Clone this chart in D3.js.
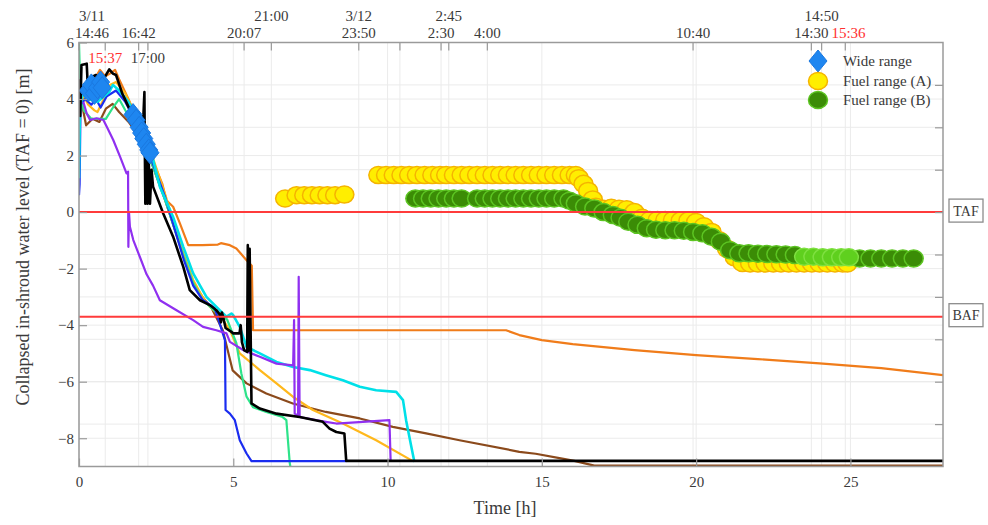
<!DOCTYPE html>
<html>
<head>
<meta charset="utf-8">
<script src="https://cdn.jsdelivr.net/npm/d3@7"></script>
<style>
  html, body { margin: 0; padding: 0; background: #fff; }
  svg { display: block; font-family: "Liberation Serif", "DejaVu Serif", serif; }
</style>
</head>
<body>
<svg id="chart" width="988" height="525"></svg>
<script>
// ---- Time references (3/11 14:46 = 0 h) ----
const topTickDays   = [11, 11, 11, 11, 11, 11, 11, 12, 12, 12, 12, 12, 12, 12, 12];
const topTickClocks = ["14:46", "15:37", "16:42", "17:00", "20:07", "21:00", "23:50", "1:10", "2:30", "2:45", "4:00", "10:40", "14:30", "14:50", "15:36"];
const topTickLabels = ["14:46", "15:37", "16:42", "17:00", "20:07", "21:00", "23:50", "", "2:30", "2:45", "4:00", "10:40", "14:30", "14:50", "15:36"];
const topTickRows   = ["lower", "inside", "lower", "inside", "lower", "upper", "lower", "none", "lower", "upper", "lower", "lower", "lower", "upper", "lower"];
const topTickRed    = [false, true, false, false, false, false, false, false, false, false, false, false, false, false, true];
const dateLabels    = ["3/11", "3/12"];
const dateAnchors   = ["14:46", "23:50"];

const bottomTicks = [0, 5, 10, 15, 20, 25];
const leftTicks   = [-8, -6, -4, -2, 0, 2, 4, 6];
const rightTicks  = [-7.5, -6, -4.5, -3, -1.5, 0, 1.5, 3, 4.5];

// ---- Reference levels [m] ----
const refNames  = ["TAF", "BAF"];
const refLevels = [0, -3.7];

// ---- Analysis curves: [time h, level m] ----
const orangeCase = [[0,3.3],[0.05,4.3],[0.15,4.0],[0.3,4.5],[0.5,4.7],[0.68,5.03],[0.85,4.8],[1.0,4.9],[1.17,5.03],[1.3,4.7],[1.6,4.0],[2.0,3.0],[2.4,1.8],[2.7,1.0],[2.83,0.42],[3.05,0.19],[3.27,-0.4],[3.54,-1.17],[4.0,-1.17],[4.5,-1.15],[4.6,-1.1],[4.89,-1.17],[5.1,-1.29],[5.43,-1.7],[5.6,-1.9],[5.64,-4.18],[13.84,-4.18],[14.27,-4.35],[15,-4.53],[16,-4.67],[18,-4.88],[20,-5.06],[22,-5.2],[24,-5.35],[26,-5.52],[28,-5.77]];
const brownCase = [[0,2.0],[0.03,3.5],[0.05,4.85],[0.1,3.8],[0.23,3.07],[0.44,3.3],[0.66,3.19],[0.87,3.66],[1.09,3.83],[1.3,3.54],[1.6,3.2],[2.0,2.6],[2.4,1.6],[2.8,0.4],[3.1,-0.6],[3.4,-1.6],[3.7,-2.5],[4.0,-3.0],[4.3,-3.4],[4.66,-4.18],[4.98,-5.6],[5.43,-6.06],[6.07,-6.42],[6.93,-6.77],[8.0,-7.07],[9.1,-7.3],[10.17,-7.6],[11.25,-7.83],[12.33,-8.07],[14.27,-8.48],[14.8,-8.55],[15.66,-8.72],[16.05,-8.8],[16.7,-8.97],[28,-8.97]];
const goldCase = [[0,3.5],[0.1,4.2],[0.3,3.8],[0.5,3.6],[0.6,3.54],[0.8,4.0],[1.0,4.5],[1.2,4.6],[1.5,4.2],[2.0,3.1],[2.4,1.9],[2.8,0.6],[3.1,-0.5],[3.4,-1.5],[3.7,-2.4],[4.0,-3.0],[4.24,-3.35],[4.6,-3.7],[4.9,-4.2],[5.21,-5.0],[5.86,-5.59],[6.4,-6.06],[6.94,-6.54],[7.58,-7.0],[8.55,-7.48],[9.63,-8.07],[10.82,-8.81]];
const greenCase = [[0,6],[0.02,5.2],[0.05,4.5],[0.15,3.6],[0.4,3.3],[0.87,3.3],[1.1,3.7],[1.3,4.0],[1.5,3.6],[2.0,2.8],[2.4,1.6],[2.8,0.4],[3.1,-0.6],[3.4,-1.6],[3.7,-2.5],[4.0,-3.1],[4.4,-3.5],[4.8,-3.8],[5.1,-4.64],[5.26,-5.7],[5.43,-6.53],[5.64,-6.9],[6.07,-7.07],[6.6,-7.25],[6.72,-7.36],[6.83,-8.88],[6.85,-9]];
const blueCase = [[0,0.6],[0.02,1.0],[0.05,3.8],[0.2,4.0],[0.4,3.8],[0.55,4.0],[0.7,3.7],[0.9,4.1],[1.2,4.3],[1.5,3.9],[2.0,2.9],[2.4,1.7],[2.8,0.5],[3.1,-0.6],[3.4,-1.7],[3.7,-2.6],[4.0,-3.1],[4.4,-3.4],[4.73,-4.53],[4.75,-7.0],[4.89,-7.13],[5.05,-7.36],[5.21,-8.07],[5.43,-8.54],[5.59,-8.81],[8.66,-8.81]];
const cyanCase = [[0,1.2],[0.03,3.5],[0.1,4.2],[0.3,4.0],[0.6,3.9],[0.98,4.25],[1.1,4.5],[1.3,4.3],[1.6,3.9],[2.0,3.1],[2.3,2.3],[2.62,0.9],[3.05,-0.17],[3.38,-1.23],[3.7,-2.17],[4.13,-3.0],[4.56,-3.47],[4.78,-3.7],[4.94,-3.59],[5.0,-3.65],[5.21,-4.06],[5.43,-4.77],[5.86,-5.0],[6.4,-5.3],[6.94,-5.48],[7.48,-5.59],[8.0,-5.77],[8.55,-5.95],[9.1,-6.18],[9.63,-6.3],[10.28,-6.36],[10.5,-6.65],[10.6,-7.36],[10.77,-8.3],[10.87,-8.84]];
const purpleCase = [[0.14,3.9],[0.25,3.49],[0.36,3.26],[0.57,3.32],[0.79,3.26],[0.9,3.02],[1.11,2.55],[1.33,1.96],[1.54,1.37],[1.59,1.43],[1.6,-1.23],[1.62,0.0],[1.65,-0.52],[1.76,-0.99],[1.97,-1.58],[2.19,-2.2],[2.4,-2.6],[2.62,-3.12],[3.16,-3.47],[3.7,-3.82],[4.02,-4.06],[4.45,-4.18],[4.78,-4.29],[4.89,-4.59],[5.32,-4.88],[5.86,-5.12],[6.4,-5.36],[6.94,-5.42],[6.97,-3.82],[6.99,-7.13],[7.1,-7.2],[7.12,-2.29],[7.15,-7.25],[8.0,-7.42],[8.34,-7.48],[10.06,-7.36],[10.1,-8.84]];
const blackCase = [[0,4.7],[0.04,3.4],[0.08,5.2],[0.25,5.25],[0.3,4.1],[0.45,4.8],[0.55,4.85],[0.71,4.45],[0.82,4.75],[0.98,5.05],[1.1,4.9],[1.2,4.85],[1.4,4.2],[1.63,3.66],[1.85,3.2],[2.06,2.72],[2.12,4.25],[2.13,2.6],[2.15,0.3],[2.18,2.0],[2.22,0.3],[2.26,1.8],[2.3,0.3],[2.35,1.5],[2.4,0.9],[2.73,-0.05],[3.05,-0.87],[3.38,-1.94],[3.59,-2.76],[3.92,-3.12],[4.24,-3.29],[4.45,-3.47],[4.55,-3.6],[4.6,-3.9],[4.63,-3.55],[4.67,-3.7],[4.75,-4.1],[4.89,-4.2],[5.0,-4.29],[5.2,-4.29],[5.24,-4.0],[5.28,-4.6],[5.35,-4.88],[5.45,-4.95],[5.47,-1.17],[5.5,-4.9],[5.53,-1.3],[5.59,-6.77],[5.86,-6.95],[6.4,-7.13],[7.15,-7.25],[7.9,-7.42],[8.12,-7.66],[8.34,-7.78],[8.6,-7.83],[8.66,-8.8],[28,-8.8]];

const caseSeries = [orangeCase, brownCase, goldCase, greenCase, blueCase, cyanCase, purpleCase, blackCase];
const caseColors = ["#f07c1a", "#8b4a1c", "#ffb81c", "#2ee38a", "#1a2cf0", "#00e0e8", "#9030f0", "#000000"];
const caseWidths = [2.2, 2.2, 2.2, 2.2, 2.2, 2.6, 2.2, 2.6];

// ---- Measured water levels: [time h, level m] ----
const wideRange = [[0.3,4.3],[0.4,4.5],[0.5,4.2],[0.6,4.4],[0.7,4.6],[0.75,4.4],[1.75,3.45],[1.85,3.25],[1.95,3.0],[2.03,2.8],[2.1,2.6],[2.18,2.4],[2.26,2.2],[2.3,2.1]];
const fuelRangeA = [[6.68,0.48],[7.05,0.6],[7.3,0.6],[7.55,0.6],[7.8,0.6],[8.05,0.6],[8.3,0.6],[8.6,0.62],
  [9.7,1.31],[9.95,1.31],[10.2,1.31],[10.45,1.31],[10.7,1.31],[10.95,1.31],[11.2,1.31],[11.45,1.31],[11.7,1.31],[11.9,1.31],
  [12.15,1.31],[12.4,1.31],[12.65,1.31],[12.9,1.31],[13.15,1.31],[13.4,1.31],[13.65,1.31],[13.9,1.31],[14.15,1.31],[14.4,1.31],[14.65,1.31],[14.9,1.31],[15.15,1.31],[15.4,1.31],[15.65,1.31],[15.9,1.31],[16.1,1.31],
  [16.2,1.2],[16.35,1.0],[16.5,0.75],[16.65,0.45],[16.75,0.19],[17.0,0.12],[17.25,0.15],[17.5,0.12],[17.75,0.1],[18.0,0.0],[18.25,-0.2],[18.5,-0.28],[18.75,-0.28],[19.0,-0.28],[19.25,-0.28],[19.5,-0.3],[19.75,-0.3],[20.0,-0.35],[20.25,-0.5],[20.5,-0.7],[20.75,-1.0],[21.0,-1.3],[21.25,-1.6],[21.5,-1.8],
  [21.75,-1.82],[22.0,-1.82],[22.25,-1.82],[22.5,-1.82],[22.75,-1.82],[23.0,-1.82],[23.25,-1.82],[23.5,-1.82],[23.75,-1.82],[24.0,-1.82],[24.25,-1.82],[24.5,-1.82],[24.75,-1.82],[24.9,-1.82]];
const fuelRangeB = [[10.9,0.48],[11.15,0.48],[11.4,0.48],[11.65,0.48],[11.9,0.48],[12.15,0.48],[12.4,0.48],
  [12.9,0.48],[13.15,0.48],[13.4,0.48],[13.65,0.48],[13.9,0.48],[14.15,0.48],[14.4,0.48],[14.65,0.48],[14.9,0.48],[15.15,0.48],[15.4,0.48],
  [15.7,0.48],[15.9,0.4],[16.1,0.31],[16.4,0.2],[16.7,0.13],[17.0,0.0],[17.3,-0.1],[17.55,-0.2],[17.8,-0.34],[18.1,-0.45],[18.4,-0.57],[18.7,-0.62],[19.0,-0.64],[19.3,-0.64],[19.6,-0.66],[19.9,-0.7],[20.2,-0.75],[20.5,-0.87],[20.8,-1.05],[21.1,-1.35],[21.4,-1.46],[21.7,-1.46],[22.0,-1.47],[22.3,-1.48],[22.6,-1.49],[22.9,-1.5],[23.2,-1.52],
  [25.3,-1.64],[25.65,-1.64],[26.0,-1.64],[26.35,-1.64],[26.7,-1.64],[27.05,-1.64]];
const fuelRangeBLate = [[23.5,-1.58],[23.8,-1.58],[24.1,-1.6],[24.4,-1.6],[24.7,-1.6],[24.95,-1.6]];

const legendNames = ["Wide range", "Fuel range (A)", "Fuel range (B)"];

// ---- Layout ----
const svg = d3.select("#chart");
const plot = { left: 79, right: 943, top: 42.5, bottom: 466.5 };
const x = d3.scaleLinear().domain([0, 28]).range([plot.left, plot.right]);
const y = d3.scaleLinear().domain([-9, 6]).range([plot.bottom, plot.top]);
const textColor = "#3a3a3a";
const frameColor = "#9a9a9a";

function hoursSince(day, clock) {
  const [hh, mm] = clock.split(":").map(Number);
  return (day - 11) * 24 + hh + mm / 60 - (14 + 46 / 60);
}
const topHours = topTickClocks.map((c, i) => hoursSince(topTickDays[i], c));

// grid
const grid = svg.append("g").attr("stroke", "#ebebeb").attr("stroke-width", 1);
bottomTicks.concat(topHours).forEach(v => {
  grid.append("line").attr("x1", x(v)).attr("x2", x(v)).attr("y1", plot.top).attr("y2", plot.bottom);
});
leftTicks.concat(rightTicks).forEach(v => {
  grid.append("line").attr("x1", plot.left).attr("x2", plot.right).attr("y1", y(v)).attr("y2", y(v));
});

// clip to plot
svg.append("clipPath").attr("id", "plotClip").append("rect")
  .attr("x", plot.left).attr("y", plot.top - 1)
  .attr("width", plot.right - plot.left).attr("height", plot.bottom - plot.top + 2);

const dataLayer = svg.append("g").attr("clip-path", "url(#plotClip)");

const line = d3.line().x(d => x(d[0])).y(d => y(d[1]));
caseSeries.forEach((s, i) => {
  dataLayer.append("path").datum(s)
    .attr("d", line)
    .attr("fill", "none")
    .attr("stroke", caseColors[i])
    .attr("stroke-width", caseWidths[i])
    .attr("stroke-linejoin", "round");
});

// measured markers
function diamond(g, cx, cy) {
  g.append("path")
    .attr("d", `M${cx},${cy - 11} L${cx + 9},${cy} L${cx},${cy + 11} L${cx - 9},${cy} Z`)
    .attr("fill", "#1e86f0").attr("stroke", "#1a78e0").attr("stroke-width", 1);
}
function disc(g, cx, cy, fill, edge) {
  g.append("ellipse").attr("cx", cx).attr("cy", cy).attr("rx", 9.5).attr("ry", 8.5)
    .attr("fill", fill).attr("stroke", edge).attr("stroke-width", 1.5);
}
wideRange.forEach(d => diamond(dataLayer, x(d[0]), y(d[1])));
fuelRangeA.forEach(d => disc(dataLayer, x(d[0]), y(d[1]), "#ffee00", "#f5b400"));
fuelRangeB.forEach(d => disc(dataLayer, x(d[0]), y(d[1]), "#3b8c06", "#5cc422"));
fuelRangeBLate.forEach(d => disc(dataLayer, x(d[0]), y(d[1]), "#5fd01e", "#7ee040"));

// reference levels
refLevels.forEach((v, i) => {
  dataLayer.append("line").attr("x1", plot.left).attr("x2", plot.right)
    .attr("y1", y(v)).attr("y2", y(v))
    .attr("stroke", "#ff3b3b").attr("stroke-width", 2);
  const g = svg.append("g").attr("transform", `translate(966, ${y(v) - 2})`);
  g.append("rect").attr("x", -17).attr("y", -11).attr("width", 34).attr("height", 23)
    .attr("fill", "#fff").attr("stroke", "#8c8c8c").attr("stroke-width", 1.3);
  g.append("text").attr("text-anchor", "middle").attr("y", 5.5)
    .attr("font-size", 14).attr("fill", textColor).text(refNames[i]);
});

// axes
const axisStyle = g => {
  g.select(".domain").remove();
  g.selectAll(".tick line").attr("stroke", frameColor).attr("stroke-width", 1.2);
  g.selectAll(".tick text").attr("fill", textColor).attr("font-size", 15)
    .attr("font-family", "'Liberation Serif', serif");
};
svg.append("g").attr("transform", `translate(0,${plot.bottom})`)
  .call(d3.axisBottom(x).tickValues(bottomTicks).tickSizeInner(-8).tickSizeOuter(0).tickPadding(10))
  .call(axisStyle);
svg.append("g").attr("transform", `translate(${plot.left},0)`)
  .call(d3.axisLeft(y).tickValues(leftTicks).tickSizeInner(-8).tickSizeOuter(0).tickPadding(5))
  .call(axisStyle);
svg.append("g").attr("transform", `translate(${plot.right},0)`)
  .call(d3.axisRight(y).tickValues(rightTicks).tickSizeInner(-8).tickSizeOuter(0).tickFormat(""))
  .call(axisStyle);

// top time axis
const topG = svg.append("g");
const rowY = { upper: 21, lower: 38, inside: 63 };
const rowRightEdge = { upper: -Infinity, lower: -Infinity, inside: -Infinity };
topHours.forEach((h, i) => {
  topG.append("line").attr("x1", x(h)).attr("x2", x(h)).attr("y1", plot.top).attr("y2", plot.top + 8)
    .attr("stroke", frameColor).attr("stroke-width", 1.2);
  const row = topTickRows[i];
  if (row === "none") return;
  const t = topG.append("text").attr("y", rowY[row])
    .attr("text-anchor", "start").attr("font-size", 15)
    .attr("fill", topTickRed[i] ? "#ff3030" : textColor)
    .text(topTickLabels[i]);
  const w = t.node().getComputedTextLength();
  // centre on the tick, but keep clear of the frame edge and the previous label in the row
  let left = Math.max(x(h), plot.left + 13) - w / 2;
  left = Math.max(left, rowRightEdge[row] + 3);
  t.attr("x", left);
  rowRightEdge[row] = left + w;
});
dateLabels.forEach((lab, i) => {
  const idx = topTickClocks.indexOf(dateAnchors[i]);
  const cx = Math.max(x(topHours[idx]), plot.left + 13);
  topG.append("text").attr("x", cx).attr("y", rowY.upper)
    .attr("text-anchor", "middle").attr("font-size", 15).attr("fill", textColor).text(lab);
});

// frame
svg.append("rect").attr("x", plot.left).attr("y", plot.top)
  .attr("width", plot.right - plot.left).attr("height", plot.bottom - plot.top)
  .attr("fill", "none").attr("stroke", frameColor).attr("stroke-width", 1.5);

// axis titles
svg.append("text").attr("x", 505).attr("y", 514).attr("text-anchor", "middle")
  .attr("font-size", 18).attr("fill", textColor).text("Time [h]");
svg.append("text").attr("transform", "translate(29,237) rotate(-90)").attr("text-anchor", "middle")
  .attr("font-size", 18).attr("fill", textColor).text("Collapsed in-shroud water level (TAF = 0) [m]");

// legend
const leg = svg.append("g");
const legY = [61, 81, 100];
diamond(leg, 818, legY[0]);
disc(leg, 818, legY[1], "#ffee00", "#f5b400");
disc(leg, 818, legY[2], "#3b8c06", "#5cc422");
legendNames.forEach((n, i) => {
  leg.append("text").attr("x", 843).attr("y", legY[i] + 5)
    .attr("font-size", 15).attr("fill", textColor).text(n);
});
</script>
</body>
</html>
